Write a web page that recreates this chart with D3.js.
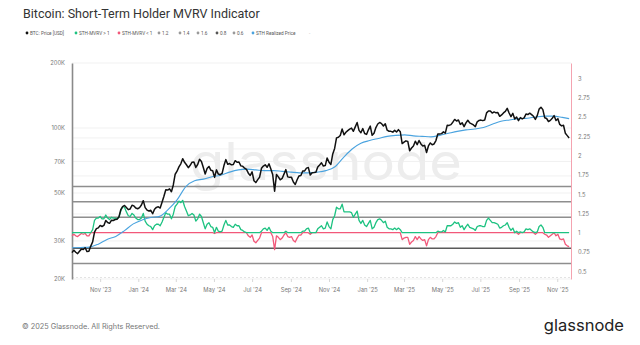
<!DOCTYPE html>
<html>
<head>
<meta charset="utf-8">
<script src="https://cdn.jsdelivr.net/npm/d3@7"></script>
<style>
  body { margin: 0; background: #fff; }
  svg { display: block; font-family: Inter, "Open Sans", sans-serif; }
</style>
</head>
<body>
<svg id="chart" width="640" height="345"></svg>
<script>
// ---- data -------------------------------------------------------------
// BTC price (thousand USD), one value every 3 days from 2023-09-17
const seriesStart = "2023-09-17";
const stepDays = 3;
const btcPrice = [
  26.5,27.2,26.6,26.2,26.9,27.5,27.4,27.9,26.8,26.9,
  28.4,29.7,33.0,34.2,34.5,35.4,35.0,35.4,37.3,36.5,
  36.2,37.4,37.3,37.7,37.8,38.7,41.9,43.3,43.8,42.9,
  41.9,42.2,43.9,43.6,42.6,42.3,42.8,44.0,46.1,42.8,
  41.7,41.3,41.6,40.1,42.1,42.9,43.2,42.6,45.3,48.3,
  51.8,51.6,52.3,50.7,54.5,61.1,63.1,66.1,68.3,72.1,
  69.4,67.6,65.5,67.2,69.5,69.6,65.7,67.8,71.6,70.0,
  65.7,61.3,64.9,66.4,63.8,63.4,59.1,64.0,61.2,60.8,
  61.6,67.0,71.4,67.9,68.5,67.6,67.8,70.6,69.4,69.6,
  66.8,66.6,65.2,64.3,61.8,60.3,62.7,57.0,55.9,57.7,
  59.2,65.1,66.7,67.6,65.8,68.3,64.6,60.7,51.0,60.9,
  59.4,57.6,58.4,61.2,64.2,59.4,59.1,59.1,56.2,54.8,
  57.6,60.0,60.3,63.2,63.3,65.2,65.6,60.6,62.1,62.2,
  62.4,66.0,67.4,69.0,66.7,67.0,72.7,69.5,67.8,75.9,
  80.4,90.0,90.6,92.3,98.9,93.0,95.6,97.3,98.8,99.9,
  96.6,101.2,106.0,97.5,95.1,99.4,94.3,93.4,98.1,102.1,
  92.5,94.5,100.5,104.4,106.1,104.8,102.1,104.7,97.7,96.6,
  96.5,95.7,97.5,95.8,98.3,96.1,84.7,86.0,87.2,86.7,
  78.5,80.8,82.6,86.9,83.8,87.5,84.4,82.5,83.1,77.0,
  82.6,85.3,83.7,84.4,87.5,93.9,93.8,94.2,96.0,94.7,
  102.9,102.8,103.7,106.4,109.6,107.8,108.9,103.9,105.7,101.5,
  105.7,108.6,105.6,104.6,103.3,101.5,106.9,108.4,108.8,108.2,
  108.9,117.5,119.8,120.0,117.3,118.7,117.6,117.9,113.3,115.0,
  117.5,119.3,123.3,117.4,112.9,116.9,110.1,112.5,108.2,111.7,
  110.2,111.5,116.0,115.4,117.1,115.3,113.3,109.7,114.1,122.3,
  124.8,121.7,111.5,110.7,107.2,108.5,111.0,114.1,108.3,110.5,
  103.9,102.3,103.0,94.5,92.2,90.0
];

// Short-term holder MVRV, same dates as the price
const sthMvrv = [
  0.96,0.98,0.96,0.95,0.97,0.99,0.98,0.99,0.96,0.96,
  1.00,1.04,1.16,1.19,1.19,1.21,1.18,1.18,1.23,1.19,
  1.17,1.20,1.19,1.19,1.18,1.20,1.28,1.34,1.33,1.27,
  1.22,1.21,1.25,1.23,1.19,1.17,1.17,1.19,1.25,1.15,
  1.11,1.09,1.08,1.04,1.09,1.11,1.11,1.09,1.14,1.20,
  1.26,1.24,1.24,1.18,1.24,1.34,1.37,1.41,1.39,1.42,
  1.34,1.28,1.22,1.23,1.25,1.23,1.15,1.18,1.24,1.21,
  1.13,1.05,1.11,1.13,1.08,1.07,0.99,1.07,1.02,1.01,
  1.02,1.10,1.16,1.10,1.10,1.08,1.07,1.11,1.09,1.09,
  1.04,1.03,1.01,1.00,0.96,0.94,0.97,0.89,0.87,0.90,
  0.93,1.02,1.05,1.06,1.03,1.07,1.02,0.95,0.78,0.96,
  0.94,0.91,0.93,0.97,1.02,0.95,0.94,0.95,0.90,0.88,
  0.93,0.97,0.97,1.02,1.02,1.05,1.06,0.98,1.00,1.00,
  1.00,1.05,1.07,1.09,1.05,1.06,1.14,1.08,1.05,1.17,
  1.22,1.33,1.31,1.31,1.37,1.27,1.27,1.27,1.27,1.26,
  1.20,1.24,1.28,1.16,1.12,1.16,1.10,1.08,1.12,1.16,
  1.05,1.07,1.13,1.17,1.18,1.16,1.13,1.15,1.07,1.05,
  1.05,1.04,1.06,1.04,1.06,1.04,0.91,0.93,0.94,0.94,
  0.85,0.88,0.90,0.95,0.91,0.95,0.92,0.90,0.91,0.83,
  0.91,0.94,0.92,0.92,0.95,1.02,1.01,1.01,1.03,1.01,
  1.09,1.09,1.09,1.11,1.14,1.12,1.13,1.07,1.09,1.04,
  1.08,1.11,1.07,1.06,1.05,1.03,1.08,1.09,1.09,1.08,
  1.08,1.16,1.19,1.16,1.13,1.13,1.12,1.11,1.06,1.07,
  1.09,1.10,1.13,1.07,1.03,1.06,1.00,1.02,0.98,1.01,
  1.00,1.01,1.05,1.04,1.05,1.03,1.01,0.98,1.01,1.08,
  1.10,1.07,0.98,0.97,0.94,0.96,0.98,1.00,0.96,0.98,
  0.92,0.91,0.92,0.85,0.83,0.82
];

// STH realized price (thousand USD), every two weeks
const realizedDates = [
  "2023-09-17","2023-10-01","2023-10-15","2023-10-29","2023-11-12","2023-11-26",
  "2023-12-10","2023-12-24","2024-01-07","2024-01-21","2024-02-04","2024-02-18",
  "2024-03-03","2024-03-17","2024-03-31","2024-04-14","2024-04-28","2024-05-12",
  "2024-05-26","2024-06-09","2024-06-23","2024-07-07","2024-07-21","2024-08-04",
  "2024-08-18","2024-09-01","2024-09-15","2024-09-29","2024-10-13","2024-10-27",
  "2024-11-10","2024-11-24","2024-12-08","2024-12-22","2025-01-05","2025-01-19",
  "2025-02-02","2025-02-16","2025-03-02","2025-03-16","2025-03-30","2025-04-13",
  "2025-04-27","2025-05-11","2025-05-25","2025-06-08","2025-06-22","2025-07-06",
  "2025-07-20","2025-08-03","2025-08-17","2025-08-31","2025-09-14","2025-09-28",
  "2025-10-12","2025-10-26","2025-11-09","2025-11-20"
];
const realizedPrice = [
  27.9,28.0,28.1,29.0,30.5,31.5,33.5,36.0,37.5,38.5,
  39.0,42.0,46.5,53.5,57.0,58.0,59.5,60.5,62.5,64.0,
  64.5,64.0,63.5,63.5,63.0,62.5,62.0,62.0,62.5,63.5,
  66.0,73.0,80.0,85.0,87.5,89.5,91.5,92.5,93.0,92.0,
  91.5,91.0,92.5,94.5,96.5,98.0,99.0,100.5,104.0,107.5,
  109.0,110.5,111.0,112.5,113.5,113.5,112.0,110.5
];

// MVRV band levels
const bandLevels = [1.2, 1.4, 1.6, 0.8, 0.6];
const bandColors = ["#8e8e8e", "#8e8e8e", "#8e8e8e", "#5a5a5a", "#8e8e8e"];

// axis ticks
const priceTicks = [20, 30, 50, 70, 100, 200];
const priceTickLabels = ["20K", "30K", "50K", "70K", "100K", "200K"];
const priceGrid = [20, 30, 40, 50, 60, 70, 80, 90, 100, 200];
const ratioTicks = [0.5, 0.75, 1, 1.25, 1.5, 1.75, 2, 2.25, 2.5, 2.75, 3];
const monthTicks = ["2023-11-01","2024-01-01","2024-03-01","2024-05-01","2024-07-01",
  "2024-09-01","2024-11-01","2025-01-01","2025-03-01","2025-05-01","2025-07-01",
  "2025-09-01","2025-11-01"];
const monthLabels = ["Nov '23","Jan '24","Mar '24","May '24","Jul '24","Sep '24",
  "Nov '24","Jan '25","Mar '25","May '25","Jul '25","Sep '25","Nov '25"];

// legend entries
const legendItems = [
  { label: "BTC: Price [USD]", color: "#111", x: 27 },
  { label: "STH-MVRV > 1", color: "#1dc281", x: 76 },
  { label: "STH-MVRV < 1", color: "#f2587a", x: 119 },
  { label: "1.2", color: "#9a9a9a", x: 159 },
  { label: "1.4", color: "#9a9a9a", x: 180 },
  { label: "1.6", color: "#9a9a9a", x: 198 },
  { label: "0.8", color: "#555", x: 217 },
  { label: "0.6", color: "#9a9a9a", x: 234 },
  { label: "STH Realized Price", color: "#4aa3df", x: 253 }
];

// ---- drawing ----------------------------------------------------------
const parse = d3.utcParse("%Y-%m-%d");
const svg = d3.select("#chart");
const plot = { left: 72, right: 571, top: 63, bottom: 279 };

const t0 = parse(seriesStart);
const dates = btcPrice.map((_, i) => d3.utcDay.offset(t0, i * stepDays));
const rDates = realizedDates.map(parse);

const x = d3.scaleUtc()
  .domain([parse("2023-09-17"), parse("2025-11-23")])
  .range([plot.left, plot.right]);
const yPrice = d3.scaleLog().domain([20, 200]).range([plot.bottom, plot.top]);
const yRatio = d3.scaleLinear().domain([0.4, 3.2]).range([plot.bottom, plot.top]);

// title
svg.append("text")
  .attr("x", 23).attr("y", 17.5)
  .attr("font-family", "Roboto, sans-serif")
  .attr("font-size", 12.5).attr("fill", "#333")
  .text("Bitcoin: Short-Term Holder MVRV Indicator");

// legend
const lg = svg.append("g").attr("font-size", 4.7).attr("fill", "#555")
  .attr("font-family", "Roboto, sans-serif");
legendItems.forEach(it => {
  lg.append("circle").attr("cx", it.x).attr("cy", 33).attr("r", 1.4).attr("fill", it.color);
  lg.append("text").attr("x", it.x + 3).attr("y", 34.6).text(it.label);
});
lg.append("text").attr("x", 309).attr("y", 34.6).attr("fill", "#bbb").text("-");

// watermark
svg.append("text")
  .attr("x", 190).attr("y", 180)
  .attr("font-size", 52).attr("fill", "#ededed")
  .attr("textLength", 272).attr("lengthAdjust", "spacingAndGlyphs")
  .text("glassnode");

// price gridlines
svg.append("g").selectAll("line").data(priceGrid).join("line")
  .attr("x1", plot.left).attr("x2", plot.right)
  .attr("y1", d => yPrice(d)).attr("y2", d => yPrice(d))
  .attr("stroke", "#eeeeee").attr("stroke-width", 0.8);

// bottom axis line and month ticks
svg.append("line")
  .attr("x1", plot.left).attr("x2", plot.right)
  .attr("y1", plot.bottom - 1.5).attr("y2", plot.bottom - 1.5)
  .attr("stroke", "#dcdcdc").attr("stroke-width", 0.8).attr("stroke-dasharray", "2,2");

const xAxis = d3.axisBottom(x)
  .tickValues(monthTicks.map(parse))
  .tickFormat((d, i) => monthLabels[i])
  .tickSize(3).tickPadding(6);
const gx = svg.append("g").attr("transform", `translate(0,${plot.bottom})`).call(xAxis);
gx.select(".domain").remove();
gx.selectAll(".tick line").attr("stroke", "#d8d8d8");
gx.selectAll(".tick text").attr("font-size", 5.8).attr("fill", "#777")
  .attr("font-family", "Inter, sans-serif");

// left axis
const yAxisL = d3.axisLeft(yPrice)
  .tickValues(priceTicks)
  .tickFormat((d, i) => priceTickLabels[i])
  .tickSize(0).tickPadding(7);
const gl = svg.append("g").attr("transform", `translate(${plot.left},0)`).call(yAxisL);
gl.select(".domain").attr("stroke", "#8a8a8a").attr("stroke-width", 1.6);
gl.selectAll(".tick text").attr("font-size", 5.8).attr("fill", "#777")
  .attr("font-family", "Inter, sans-serif");

// right axis
const yAxisR = d3.axisRight(yRatio)
  .tickValues(ratioTicks)
  .tickFormat(d3.format("~g"))
  .tickSize(0).tickPadding(7);
const gr = svg.append("g").attr("transform", `translate(${plot.right},0)`).call(yAxisR);
gr.select(".domain").attr("stroke", "#f4a3b0").attr("stroke-width", 1);
gr.selectAll(".tick text").attr("font-size", 5.8).attr("fill", "#777")
  .attr("font-family", "Inter, sans-serif");

// MVRV band lines
svg.append("g").selectAll("line").data(bandLevels).join("line")
  .attr("x1", plot.left + 1).attr("x2", plot.right)
  .attr("y1", d => yRatio(d)).attr("y2", d => yRatio(d))
  .attr("stroke", (d, i) => bandColors[i]).attr("stroke-width", 1.5);

// MVRV split at 1: the part above 1 in green, below 1 in red
const mvrvAbove = sthMvrv.map(v => Math.max(v, 1));
const mvrvBelow = sthMvrv.map(v => Math.min(v, 1));
const ratioLine = d3.line().x((d, i) => x(dates[i])).y(d => yRatio(d));

svg.append("path").datum(mvrvBelow)
  .attr("d", ratioLine).attr("fill", "none")
  .attr("stroke", "#f2587a").attr("stroke-width", 1.3).attr("stroke-linejoin", "round");
svg.append("path").datum(mvrvAbove)
  .attr("d", ratioLine).attr("fill", "none")
  .attr("stroke", "#1dc281").attr("stroke-width", 1.3).attr("stroke-linejoin", "round");

// realized price
svg.append("path").datum(realizedPrice)
  .attr("d", d3.line().curve(d3.curveMonotoneX)
    .x((d, i) => x(rDates[i])).y(d => yPrice(d)))
  .attr("fill", "none").attr("stroke", "#4aa3df").attr("stroke-width", 1.1);

// BTC price
svg.append("path").datum(btcPrice)
  .attr("d", d3.line().x((d, i) => x(dates[i])).y(d => yPrice(d)))
  .attr("fill", "none").attr("stroke", "#111").attr("stroke-width", 1.5)
  .attr("stroke-linejoin", "round");

// footer
svg.append("text")
  .attr("x", 22).attr("y", 328.5)
  .attr("font-size", 7.3).attr("fill", "#777")
  .text("© 2025 Glassnode. All Rights Reserved.");
svg.append("text")
  .attr("x", 624).attr("y", 331).attr("text-anchor", "end")
  .attr("font-size", 16.5).attr("fill", "#222")
  .text("glassnode");
</script>
</body>
</html>
